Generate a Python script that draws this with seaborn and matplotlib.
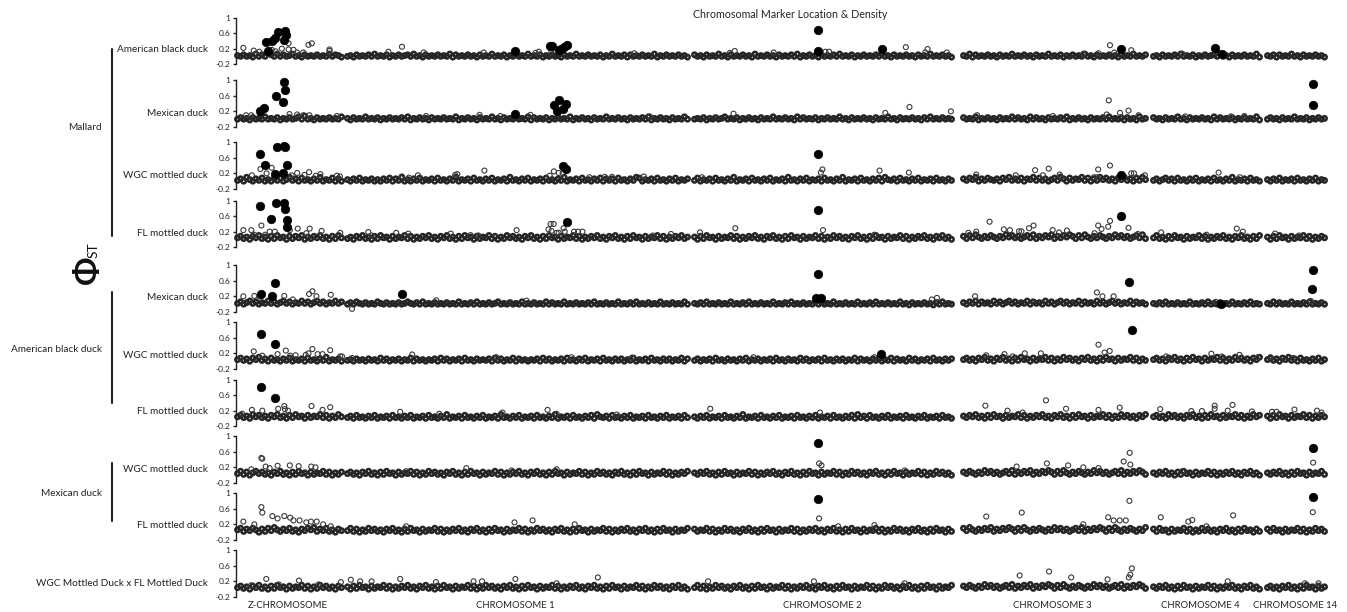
import numpy as np
import pandas as pd
import matplotlib
matplotlib.use("Agg")
import matplotlib.pyplot as plt
import seaborn as sns

# chromosome panels and labels
chromosomes = ["Z", "1", "2", "3", "4", "14"]
chrom_labels = ["Z-CHROMOSOME", "CHROMOSOME 1", "CHROMOSOME 2", "CHROMOSOME 3",
                "CHROMOSOME 4", "CHROMOSOME 14"]
row_labels = ["American black duck", "Mexican duck", "WGC mottled duck", "FL mottled duck",
              "Mexican duck", "WGC mottled duck", "FL mottled duck",
              "WGC mottled duck", "FL mottled duck",
              "WGC Mottled Duck x FL Mottled Duck"]
group_labels = ["Mallard", "American black duck", "Mexican duck"]
ytick_values = [-0.2, 0.2, 0.6, 1]
ytick_text = ["-0.2", "0.2", "0.6", "1"]

# background markers: one digit per marker, phi = (digit - 1) * 0.02
# outliers: (chromosome index, marker position, phi)
abd_mal_base = ["21312041315314131241203121312141320",
                "120312131412130213123141203121312140312131203121412130213121412130213120312141213121302141213031213121402131213120",
                "31203121412031213120412131203121314021312031213141213021312131412031213120312141213120",
                "2140312131203121412131203121412130213121412031213120312141213",
                "120312131412130213123141203121312140",
                "21303121412031213120"]
abd_mal_open = [(0, 2.4, .22), (0, 5.8, .15), (0, 7.6, .12), (0, 11.7, .17), (0, 13.0, .13),
                (0, 15.0, .20), (0, 17.2, .34), (0, 17.2, .18), (0, 18.8, .17), (0, 20.0, .10),
                (0, 22.0, .10), (0, 23.7, .30), (0, 24.8, .34), (0, 30.6, .18), (0, 30.6, .14),
                (1, 14.1, .12), (1, 18.6, .25), (1, 25.8, .10), (1, 45.8, .10), (1, 63.0, .09),
                (1, 64.1, .12), (1, 68.2, .10), (1, 95.8, .08),
                (2, 12.2, .09), (2, 13.8, .14), (2, 26.7, .10), (2, 43.8, .12), (2, 45.0, .12),
                (2, 70.4, .24), (2, 76.8, .10), (2, 77.6, .19), (2, 84.0, .10),
                (3, 40.0, .07), (3, 45.0, .08), (3, 48.8, .29), (3, 50.2, .10), (3, 55.8, .16),
                (4, 10.0, .07), (4, 20.9, .11)]
abd_mal_fill = [(0, 9.9, .37), (0, 10.6, .15), (0, 11.9, .41), (0, 12.7, .47), (0, 13.8, .64),
                (0, 15.9, .66), (0, 16.4, .55), (0, 15.8, .43),
                (1, 56.3, .15), (1, 67.8, .28), (1, 68.6, .28), (1, 70.8, .16), (1, 71.6, .20),
                (1, 72.4, .25), (1, 73.3, .29),
                (2, 41.3, .70), (2, 41.3, .14), (2, 62.6, .20),
                (3, 52.4, .20), (4, 20.8, .22), (4, 23.0, .05)]

mex_mal_base = ["13120312141213021312415120312131214",
                "203121412130213121314021312031213121402131203121412031213121403121302131214021312031214121312031213140213120312141",
                "12130213124121302131203121412131204131213021312141203121312031214120312131203141213121",
                "3121402131203121413120413120312131402131203121314121303120412",
                "312031214120312131204131213021312140",
                "13120312141213021312"]
mex_mal_open = [(0, 3.3, .10), (0, 5.0, .10), (0, 17.5, .13), (0, 20.0, .12), (0, 22.0, .10),
                (0, 24.0, .10), (0, 33.0, .08),
                (1, 26.6, .08), (1, 44.4, .11), (1, 51.3, .08), (1, 61.3, .11), (1, 101.0, .07),
                (2, 13.4, .14), (2, 63.6, .16), (2, 71.6, .31), (2, 85.3, .20),
                (3, 5.0, .10), (3, 30.0, .08), (3, 47.7, .12), (3, 48.4, .48), (3, 52.1, .16),
                (3, 54.9, .22), (3, 58.2, .10),
                (4, 11.0, .07), (4, 26.0, .07), (4, 30.5, .08)]
mex_mal_fill = [(0, 7.8, .22), (0, 9.1, .29), (0, 13.2, .60), (0, 15.8, .94), (0, 16.0, .74),
                (0, 15.3, .45),
                (1, 56.3, .14), (1, 69.1, .36), (1, 70.8, .48), (1, 73.1, .39), (1, 70.0, .20),
                (1, 72.1, .27),
                (5, 15.8, .89), (5, 15.6, .37)]

wgc_mal_base = ["24163142513142513624152314261325141",
                "314251324131425142613142513241523142613241523142513241623142513241523142613241523142514241523142651324152314251324",
                "25132415231426132415231425132416231425132415231426132415231425163241523142513241523142",
                "4253614253241536242514362524135264152436251426352415362415263",
                "241352415231425132415231426132415231",
                "31425132415231425132"]
wgc_mal_open = [(0, 5.2, .15), (0, 8.0, .31), (0, 10.0, .20), (0, 11.7, .34), (0, 18.2, .15),
                (0, 20.0, .21), (0, 22.4, .16), (0, 23.9, .23), (0, 26.1, .14), (0, 27.6, .18),
                (0, 33.0, .14), (0, 34.0, .12),
                (1, 18.6, .12), (1, 20.9, .09), (1, 23.9, .15), (1, 36.3, .16), (1, 37.0, .18),
                (1, 46.0, .27), (1, 67.7, .14), (1, 69.1, .25), (1, 70.7, .21), (1, 72.0, .20),
                (1, 80.9, .10), (1, 86.0, .11), (1, 88.4, .11), (1, 99.0, .12),
                (2, 3.0, .10), (2, 42.3, .22), (2, 42.8, .30), (2, 61.7, .27), (2, 71.4, .22),
                (3, 4.7, .17), (3, 17.7, .15), (3, 24.1, .28), (3, 26.7, .15), (3, 28.6, .32),
                (3, 32.2, .17), (3, 32.5, .12), (3, 43.5, .10), (3, 44.5, .10), (3, 44.9, .30),
                (3, 48.8, .40), (3, 55.8, .20), (3, 56.7, .20), (3, 60.3, .15),
                (4, 22.0, .22), (4, 29.0, .10)]
wgc_mal_fill = [(0, 7.8, .70), (0, 9.4, .41), (0, 12.7, .19), (0, 13.3, .88), (0, 15.6, .90),
                (0, 16.0, .87), (0, 15.3, .22), (0, 16.8, .41),
                (1, 72.1, .38), (1, 73.2, .32), (2, 41.3, .69), (3, 52.3, .17)]

fl_mal_base = ["35241536241526341525361425362415263",
               "241536241526341524362514253624153624152634152436251426352415362415263415243625142536241536241526341524362514253624",
               "41526341524362514253624153624152634152436251426352415362415263415243625142536241536241",
               "5263742536425374635246372536472536475263742536425374635246372",
               "362415263415243625142536241536241526",
               "41526341524362514253"]
fl_mal_open = [(0, 2.4, .24), (0, 5.0, .24), (0, 6.0, .12), (0, 8.3, .36), (0, 9.5, .12),
               (0, 11.0, .20), (0, 12.7, .20), (0, 17.6, .24), (0, 20.2, .28), (0, 23.0, .16),
               (0, 24.1, .28), (0, 28.0, .22), (0, 34.1, .17),
               (1, 7.4, .19), (1, 8.5, .10), (1, 16.7, .17), (1, 20.7, .15), (1, 34.8, .15),
               (1, 41.4, .11), (1, 44.0, .10), (1, 56.7, .24), (1, 67.3, .26), (1, 68.0, .40),
               (1, 68.3, .22), (1, 69.0, .40), (1, 70.0, .17), (1, 70.7, .17), (1, 72.3, .29),
               (1, 72.7, .20), (1, 75.8, .20), (1, 77.1, .20), (1, 78.6, .20), (1, 102.0, .10),
               (1, 108.0, .14),
               (2, 2.3, .18), (2, 14.0, .29), (2, 43.0, .24), (2, 60.0, .12),
               (3, 2.1, .17), (3, 4.7, .20), (3, 9.1, .46), (3, 13.8, .26), (3, 15.8, .24),
               (3, 18.8, .21), (3, 19.6, .21), (3, 22.1, .29), (3, 23.6, .36), (3, 29.9, .24),
               (3, 32.0, .18), (3, 34.6, .23), (3, 43.7, .16), (3, 44.9, .36), (3, 46.0, .27),
               (3, 48.2, .33), (3, 48.8, .48), (3, 54.9, .30), (3, 58.0, .14),
               (4, 3.0, .18), (4, 18.0, .12), (4, 28.0, .28), (4, 30.0, .20),
               (5, 3.0, .15), (5, 11.0, .10)]
fl_mal_fill = [(0, 7.8, .87), (0, 11.6, .53), (0, 13.2, .94), (0, 15.6, .94), (0, 16.0, .80),
               (0, 16.7, .50), (0, 16.6, .33), (1, 73.3, .45), (2, 41.3, .77), (3, 52.3, .62)]

mex_abd_base = ["24135241325241352413252413524132524",
                "131421312142131213124213141213121312141213141213124121312141213121413121412131213141213121412131412131214121312141",
                "21314121312141213141213121412131412131214131214121312141213141213121412031213120314121",
                "3142514231524135241325142315241352413251423152413524132514231",
                "213141213121412131412131214121314121",
                "21413121412131412131"]
mex_abd_open = [(0, 2.4, .20), (0, 6.0, .21), (0, 7.7, .20), (0, 15.8, .21), (0, 18.6, .12),
                (0, 23.9, .26), (0, 25.0, .33), (0, 26.3, .20), (0, 31.0, .24),
                (1, 2.0, -.12), (1, 30.0, .10), (1, 60.0, .09),
                (2, 79.0, .12), (2, 80.7, .16),
                (3, 4.3, .20), (3, 44.5, .30), (3, 46.3, .20), (3, 50.0, .20),
                (4, 21.0, .06), (5, 15.0, .08)]
mex_abd_fill = [(0, 8.3, .26), (0, 11.9, .22), (0, 12.8, .54), (1, 18.7, .27),
                (2, 41.3, .76), (2, 40.7, .16), (2, 42.3, .16), (3, 55.0, .56),
                (4, 22.7, .01), (5, 15.6, .88), (5, 15.4, .40)]

wgc_abd_base = ["35241536241523142513241523142613241",
                "231423142315241324132514231324152413241523142324152413251423132415241324152314251324152314241325132415231424132514",
                "24132415231423142513241324152314231524132415231424132514231424132514231524132415231424",
                "3524153624153624152634152436251426352415362415263415243625142",
                "352415362415263415243625142635241536",
                "35241536241523142513"]
wgc_abd_open = [(0, 1.5, .08), (0, 5.8, .25), (0, 8.6, .14), (0, 13.6, .18), (0, 16.3, .27),
                (0, 17.7, .14), (0, 19.5, .15), (0, 22.8, .16), (0, 23.7, .20), (0, 25.0, .31),
                (0, 26.7, .18), (0, 28.3, .18), (0, 30.8, .28), (0, 34.1, .12), (0, 34.7, .12),
                (1, 2.0, .08), (1, 22.0, .17), (1, 50.0, .10), (1, 75.0, .10), (1, 95.0, .09),
                (2, 20.0, .10), (2, 60.0, .10),
                (3, 8.0, .15), (3, 14.0, .18), (3, 16.7, .12), (3, 20.7, .20), (3, 26.0, .20),
                (3, 45.0, .42), (3, 47.0, .22), (3, 48.7, .26),
                (4, 4.7, .12), (4, 19.6, .19), (4, 23.0, .12), (4, 28.9, .16), (4, 35.0, .10),
                (5, 1.5, .10), (5, 9.0, .08)]
wgc_abd_fill = [(0, 8.3, .70), (0, 12.8, .44), (2, 62.3, .19), (3, 56.0, .79)]

fl_abd_base = ["35241635241536241526341524362514263",
               "241523142513241523142513241523142613241523142513241623142513241523142613241523142516324152314251324152314251324152",
               "31425132415231426132415231425132415231425132415231425162415231425132415231425132415231",
               "4253624152634152436251425362415362415263415243625142635241536",
               "352416352415362415263415243625142635",
               "41526341524362514253"]
fl_abd_open = [(0, 2.0, .12), (0, 5.2, .22), (0, 8.6, .20), (0, 13.8, .25), (0, 15.8, .32),
               (0, 16.0, .24), (0, 17.0, .20), (0, 24.7, .32), (0, 28.3, .22), (0, 30.8, .29),
               (1, 18.0, .17), (1, 31.0, .12), (1, 52.0, .15), (1, 67.0, .22), (1, 70.0, .12),
               (1, 90.0, .10),
               (2, 5.7, .25), (2, 42.0, .15),
               (3, 7.7, .33), (3, 15.0, .20), (3, 20.0, .15), (3, 27.7, .47), (3, 34.3, .25),
               (3, 45.0, .22), (3, 52.0, .28),
               (4, 2.7, .24), (4, 13.0, .19), (4, 16.5, .19), (4, 20.7, .33), (4, 20.7, .25),
               (4, 25.0, .20), (4, 26.6, .35), (4, 33.0, .18),
               (5, 2.0, .17), (5, 3.5, .17), (5, 9.5, .23), (5, 17.0, .20), (5, 18.5, .15)]
fl_abd_fill = [(0, 8.3, .83), (0, 12.8, .52)]

wgc_mex_base = ["36251463524153624152634152436251425",
                "352415362415263415243625142635241536241526341524362514253624153624152634152436251426352415362415263415243625142536",
                "42536241526341524362514253624153624152634152436251426352415362415263415243625142635241",
                "5364253746352463725364725364752637425364253746352463725364752",
                "425362415263415243625142536241536241",
                "42536241526341524362"]
wgc_mex_open = [(0, 5.0, .15), (0, 8.3, .44), (0, 8.6, .42), (0, 9.7, .22), (0, 11.0, .18),
                (0, 13.6, .24), (0, 17.6, .25), (0, 20.5, .23), (0, 24.6, .22), (0, 26.0, .20),
                (1, 20.0, .10), (1, 40.0, .18), (1, 55.0, .12), (1, 70.0, .15),
                (2, 41.7, .30), (2, 42.5, .25), (2, 70.0, .12),
                (3, 18.0, .22), (3, 28.0, .30), (3, 35.0, .25), (3, 40.0, .20), (3, 45.0, .18),
                (3, 53.3, .35), (3, 55.3, .57), (3, 55.5, .27),
                (4, 10.0, .10), (5, 15.7, .32)]
wgc_mex_fill = [(2, 41.3, .82), (5, 15.7, .69)]

fl_mex_base = ["46253641526374253624153647253624153",
               "362514263524153624152634152436251425362415362415263415243625142635241536241526341524362514253624153624152634152436",
               "52436251426352415362415263415243625142536241536241526341524362514263524153624152634152",
               "6374253647253647526374253642537463524637253647526374253642537",
               "526341524362514263524153624152634152",
               "52634152436251426352"]
fl_mex_open = [(0, 2.4, .27), (0, 6.0, .20), (0, 8.3, .64), (0, 8.6, .50), (0, 11.9, .41),
               (0, 13.6, .35), (0, 15.8, .41), (0, 17.7, .37), (0, 18.8, .30), (0, 20.8, .30),
               (0, 23.0, .25), (0, 24.5, .27), (0, 26.4, .27), (0, 28.5, .20), (0, 31.0, .15),
               (1, 20.0, .15), (1, 56.0, .25), (1, 62.0, .30), (1, 76.0, .20),
               (2, 41.7, .35), (2, 48.0, .15), (2, 60.0, .18),
               (3, 8.0, .40), (3, 19.7, .50), (3, 40.0, .20), (3, 48.2, .38), (3, 50.0, .30),
               (3, 52.0, .30), (3, 54.0, .30), (3, 55.2, .80),
               (4, 2.9, .38), (4, 12.0, .27), (4, 13.3, .31), (4, 18.0, .15), (4, 26.8, .43),
               (5, 15.6, .51)]
fl_mex_fill = [(2, 41.3, .85), (5, 15.8, .91)]

wgc_fl_base = ["35241536241526341524362514263524153",
               "415263415243625142536241536241526341524362514263524153624152634152436251425362415362415263415243625142635241536241",
               "36251426352415362415263415243625142536241536241526341524362514263524153624152634152436",
               "5364253746352463725364725364752637425364253746352463725364752",
               "425362415263415243625142536241536241",
               "35241536241526341524"]
wgc_fl_open = [(0, 5.0, .10), (0, 9.9, .26), (0, 14.0, .12), (0, 20.6, .22), (0, 27.0, .12),
               (0, 34.3, .18),
               (1, 1.6, .24), (1, 4.7, .20), (1, 8.5, .20), (1, 18.0, .26), (1, 29.9, .18),
               (1, 42.4, .20), (1, 45.2, .20), (1, 56.3, .26), (1, 70.0, .15), (1, 83.7, .30),
               (2, 5.0, .20), (2, 40.0, .20), (2, 70.0, .15),
               (3, 19.0, .35), (3, 28.7, .45), (3, 36.0, .30), (3, 48.0, .25), (3, 55.0, .30),
               (3, 55.5, .37), (3, 56.0, .53),
               (4, 25.0, .20), (5, 13.0, .15), (5, 17.5, .15)]
wgc_fl_fill = []

comparisons = [(abd_mal_base, abd_mal_open, abd_mal_fill),
               (mex_mal_base, mex_mal_open, mex_mal_fill),
               (wgc_mal_base, wgc_mal_open, wgc_mal_fill),
               (fl_mal_base, fl_mal_open, fl_mal_fill),
               (mex_abd_base, mex_abd_open, mex_abd_fill),
               (wgc_abd_base, wgc_abd_open, wgc_abd_fill),
               (fl_abd_base, fl_abd_open, fl_abd_fill),
               (wgc_mex_base, wgc_mex_open, wgc_mex_fill),
               (fl_mex_base, fl_mex_open, fl_mex_fill),
               (wgc_fl_base, wgc_fl_open, wgc_fl_fill)]

records = []
for r, (base, opn, fill) in enumerate(comparisons):
    for c, s in enumerate(base):
        for i, ch in enumerate(s):
            records.append((r, c, i + 0.5, (int(ch) - 1) * 0.02, "marker"))
    for c, pos, phi in opn:
        records.append((r, c, pos, phi, "open"))
    for c, pos, phi in fill:
        records.append((r, c, pos, phi, "filled"))
df = pd.DataFrame(records, columns=["row", "chrom", "pos", "phi", "kind"])

sns.set_style("white")
plt.rcParams["font.family"] = ["Lato", "DejaVu Sans"]

# layout in pixels
W, H = 1347, 612
row_top = [18, 80, 142, 201, 265, 322, 380, 436, 493, 550]
row_bot = [64, 127, 189, 247, 312, 369, 426, 483, 540, 597]
col_x = [(236, 343), (346, 689), (693, 953), (962, 1147), (1152, 1261), (1266, 1326)]
chrom_label_x = [288, 515, 822, 1052, 1200, 1295]

fig = plt.figure(figsize=(W / 100, H / 100), dpi=100)

for r in range(len(comparisons)):
    for c, (x0, x1) in enumerate(col_x):
        ax = fig.add_axes([x0 / W, 1 - row_bot[r] / H, (x1 - x0) / W, (row_bot[r] - row_top[r]) / H])
        ax.patch.set_alpha(0)
        sub = df[(df["row"] == r) & (df["chrom"] == c)]
        n = len(comparisons[r][0][c])
        # dense marker band
        sns.scatterplot(data=sub[sub["kind"] == "marker"], x="pos", y="phi", ax=ax, s=10,
                        facecolor="none", edgecolor="#262626", linewidth=1.8,
                        legend=False, clip_on=False, zorder=2)
        sns.scatterplot(data=sub[sub["kind"] == "open"], x="pos", y="phi", ax=ax, s=13,
                        facecolor="none", edgecolor="#3a3a3a", linewidth=0.8,
                        legend=False, clip_on=False, zorder=2)
        filled = sub[sub["kind"] == "filled"]
        if len(filled):
            sns.scatterplot(data=filled, x="pos", y="phi", ax=ax, s=40, color="black",
                            edgecolor="black", linewidth=0.3, legend=False,
                            clip_on=False, zorder=3)
        ax.set_xlim(0, n)
        ax.set_ylim(-0.2, 1.0)
        ax.set_xlabel("")
        ax.set_ylabel("")
        ax.set_xticks([])
        for side in ["top", "right", "bottom", "left"]:
            ax.spines[side].set_visible(False)
        if c == 0:
            ax.spines["left"].set_visible(True)
            ax.spines["left"].set_color("#222222")
            ax.spines["left"].set_linewidth(1.0)
            ax.set_yticks(ytick_values)
            ax.set_yticklabels(ytick_text)
            ax.tick_params(axis="y", direction="out", length=2.5, width=1.0, pad=1.5,
                           labelsize=6, left=True, color="#222222")
        else:
            ax.set_yticks([])
    fig.text(208 / W, 1 - (row_bot[r] - 14) / H, row_labels[r], ha="right", va="center",
             fontsize=7.2, color="#222222")

for lab, cx in zip(chrom_labels, chrom_label_x):
    fig.text(cx / W, 1 - 605 / H, lab, ha="center", va="center", fontsize=6.8, color="#222222")

fig.text(790 / W, 1 - 14 / H, "Chromosomal Marker Location & Density", ha="center",
         va="center", fontsize=7.7, color="#222222")

# comparison groups: bracket line and label
group_spans = [(49, 236, 127), (292, 403, 349), (463, 521, 493)]
for lab, (y0, y1, yl) in zip(group_labels, group_spans):
    fig.add_artist(plt.Line2D([112 / W, 112 / W], [1 - y0 / H, 1 - y1 / H], color="#222222",
                              linewidth=1.5))
    fig.text(102 / W, 1 - yl / H, lab, ha="right", va="center", fontsize=7.2, color="#222222")

fig.text(87 / W, 1 - 270 / H, "\u03a6", rotation=90, ha="center", va="center",
         fontsize=24, color="#111111", fontweight="bold")
fig.text(94 / W, 1 - 250 / H, "ST", rotation=90, ha="center", va="center",
         fontsize=10, color="#111111")

fig.savefig("out.png", dpi=100)
